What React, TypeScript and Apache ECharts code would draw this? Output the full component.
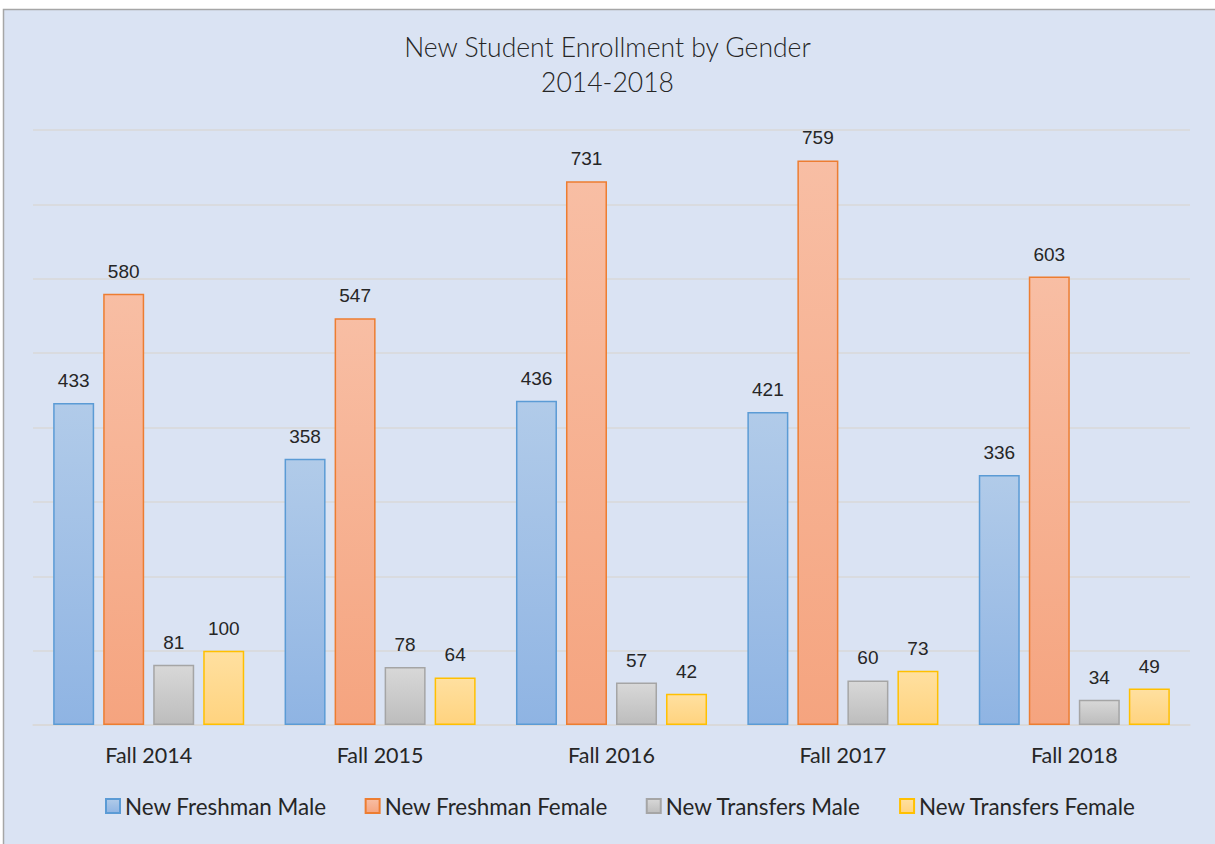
import React, { useEffect, useRef } from "react";
import * as echarts from "echarts";

const categories = ["Fall 2014", "Fall 2015", "Fall 2016", "Fall 2017", "Fall 2018"];
const freshmanMale = [433, 358, 436, 421, 336];
const freshmanFemale = [580, 547, 731, 759, 603];
const transfersMale = [81, 78, 57, 60, 34];
const transfersFemale = [100, 64, 42, 73, 49];
const seriesNames = ["New Freshman Male", "New Freshman Female", "New Transfers Male", "New Transfers Female"];

const grad = (top: string, bottom: string) =>
  new echarts.graphic.LinearGradient(0, 0, 0, 1, [
    { offset: 0, color: top },
    { offset: 1, color: bottom },
  ]);

export default function App() {
  const ref = useRef<HTMLDivElement>(null);
  useEffect(() => {
    document.body.style.margin = "0";
    const chart = echarts.init(ref.current!, null, { renderer: "svg" });
    const styles = [
      { fill: grad("#b1cbe9", "#8fb4e3"), border: "#5b9bd5" },
      { fill: grad("#f8bea4", "#f5a47f"), border: "#ed7d31" },
      { fill: grad("#d8d8d8", "#bdbdbd"), border: "#a5a5a5" },
      { fill: grad("#ffe0a0", "#ffd37f"), border: "#ffc000" },
    ];
    const data = [freshmanMale, freshmanFemale, transfersMale, transfersFemale];
    const labelFont = "'Liberation Sans', Arial, sans-serif";
    const textFont = "Lato, 'Open Sans', sans-serif";
    chart.setOption({
      animation: false,
      backgroundColor: "#ffffff",
      title: {
        text: "New Student Enrollment by Gender\n2014-2018",
        left: "center",
        top: 24,
        textStyle: {
          fontFamily: textFont,
          fontWeight: 300,
          fontSize: 26.5,
          lineHeight: 35,
          color: "#262626",
        },
      },
      graphic: [
        {
          type: "rect",
          z: -10,
          shape: { x: 3.5, y: 9.5, width: 1220, height: 840 },
          style: { fill: "#dae3f3", stroke: "#a6a6a6", lineWidth: 1.5 },
        },
      ],
      legend: {
        data: seriesNames,
        bottom: 22,
        left: 100,
        icon: "rect",
        itemWidth: 14,
        itemHeight: 14,
        itemGap: 38,
        textStyle: { fontFamily: textFont, fontSize: 22.4, color: "#262626" },
      },
      grid: { left: 33, right: 25, top: 130, bottom: 119 },
      xAxis: {
        type: "category",
        data: categories,
        axisLine: { lineStyle: { color: "#d9d9d9", width: 1.5 } },
        axisTick: { show: false },
        axisLabel: { fontFamily: textFont, fontSize: 21.5, color: "#262626", margin: 19 },
      },
      yAxis: {
        type: "value",
        min: 0,
        max: 800,
        interval: 100,
        axisLabel: { show: false },
        axisLine: { show: false },
        axisTick: { show: false },
        splitLine: { lineStyle: { color: "#d9d9d9", width: 1.5 } },
      },
      series: data.map((d, i) => ({
        name: seriesNames[i],
        type: "bar",
        data: d,
        barWidth: 41,
        barGap: "22%",
        itemStyle: { color: styles[i].fill, borderColor: styles[i].border, borderWidth: 1.5 },
        label: {
          show: true,
          position: "top",
          distance: 13,
          fontFamily: labelFont,
          fontSize: 19,
          color: "#262626",
        },
      })),
    });
    return () => chart.dispose();
  }, []);
  return <div ref={ref} style={{ width: 1215, height: 844 }} />;
}
